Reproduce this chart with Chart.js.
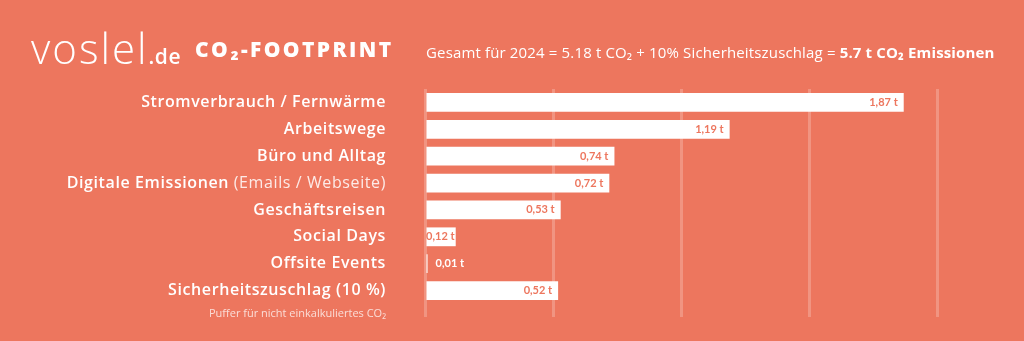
<!DOCTYPE html>
<html>
<head>
<meta charset="utf-8">
<script src="https://cdn.jsdelivr.net/npm/chart.js@4"></script>
<style>
  html, body { margin: 0; padding: 0; background: #ED765E; width: 1024px; height: 341px; overflow: hidden; }
  #wrap { position: relative; width: 1024px; height: 341px; }
  #myChart { position: absolute; left: 0; top: 0; }
  .t { position: absolute; color: #fff; white-space: nowrap; font-family: "Open Sans", sans-serif; line-height: 1; }
</style>
</head>
<body>
<div id="wrap">
  <canvas id="myChart" width="1024" height="341"></canvas>
  <div class="t" style="left:31px;top:27px;font-size:42px;font-weight:300;letter-spacing:2px">voslel<span style="font-size:21px;font-weight:600;letter-spacing:0.5px">.de</span></div>
  <div class="t" style="left:195px;top:39px;font-size:21px;font-weight:800;letter-spacing:2.4px">CO₂-FOOTPRINT</div>
  <div class="t" style="left:426px;top:45px;font-size:15px;font-weight:400;letter-spacing:0.15px">Gesamt für 2024 = 5.18 t CO₂ + 10% Sicherheitszuschlag = <b>5.7 t CO₂ Emissionen</b></div>
</div>
<script>
// Kategorien (fetter Teil), Zusatz in duenner Schrift, Unterzeile
const kategorien = ["Stromverbrauch / Fernwärme", "Arbeitswege", "Büro und Alltag", "Digitale Emissionen", "Geschäftsreisen", "Social Days", "Offsite Events", "Sicherheitszuschlag (10 %)"];
const kategorienZusatz = ["", "", "", " (Emails / Webseite)", "", "", "", ""];
const unterzeilen = ["", "", "", "", "", "", "", "Puffer für nicht einkalkuliertes CO₂"];
const emissionen = [1.87, 1.19, 0.74, 0.72, 0.53, 0.12, 0.01, 0.52];
const werteBeschriftung = ["1,87 t", "1,19 t", "0,74 t", "0,72 t", "0,53 t", "0,12 t", "0,01 t", "0,52 t"];
const achseMax = 2;
const achseSchritt = 0.5;

const hintergrund = "#ED765E";

const beschriftung = {
  id: "beschriftung",
  afterDatasetsDraw(chart) {
    const ctx = chart.ctx;
    const meta = chart.getDatasetMeta(0);
    const yScale = chart.scales.y;
    const rechts = chart.chartArea.left - 39;
    ctx.save();
    ctx.textBaseline = "middle";
    for (let i = 0; i < kategorien.length; i++) {
      const y = yScale.getPixelForValue(i);
      let x = rechts;
      ctx.textAlign = "right";
      ctx.letterSpacing = "0.6px";
      if (kategorienZusatz[i]) {
        ctx.font = '400 16px "Open Sans"';
        ctx.fillStyle = "rgba(255,255,255,0.85)";
        ctx.fillText(kategorienZusatz[i], x, y);
        x -= ctx.measureText(kategorienZusatz[i]).width;
      }
      ctx.font = '600 16px "Open Sans"';
      ctx.fillStyle = "#fff";
      ctx.fillText(kategorien[i], x, y);
      if (unterzeilen[i]) {
        ctx.letterSpacing = "0px";
        ctx.font = '400 11px "Open Sans"';
        ctx.fillStyle = "rgba(255,255,255,0.75)";
        ctx.fillText(unterzeilen[i], rechts, y + 23);
      }

      //Werte an den Balken
      ctx.letterSpacing = "0px";
      const bar = meta.data[i];
      const start = chart.scales.x.getPixelForValue(0);
      const breite = bar.x - start;
      ctx.font = '700 11px "Lato"';
      const w = ctx.measureText(werteBeschriftung[i]).width;
      if (breite > w + 2) {
        ctx.fillStyle = hintergrund;
        ctx.fillText(werteBeschriftung[i], bar.x - Math.min(6, (breite - w) / 2), y);
      } else {
        ctx.textAlign = "left";
        ctx.fillStyle = "#fff";
        ctx.fillText(werteBeschriftung[i], bar.x + 8, y);
      }
    }
    ctx.restore();
  }
};

const ctx = document.getElementById("myChart");
new Chart(ctx, {
  type: "bar",
  data: {
    labels: kategorien,
    datasets: [{
      data: emissionen,
      backgroundColor: "#ffffff",
      borderWidth: 0,
      barPercentage: 0.7,
      categoryPercentage: 1
    }]
  },
  options: {
    indexAxis: "y",
    responsive: false,
    animation: false,
    devicePixelRatio: 1,
    layout: { padding: { left: 425, right: 87, top: 89, bottom: 24 } },
    plugins: { legend: { display: false }, tooltip: { enabled: false } },
    scales: {
      x: {
        min: 0,
        max: achseMax,
        ticks: { display: false, stepSize: achseSchritt },
        border: { display: false },
        grid: { color: "rgba(255,255,255,0.22)", lineWidth: 3, drawTicks: true, tickLength: 13 },
        afterFit(scale) { scale.height = 13; }
      },
      y: { display: false }
    }
  },
  plugins: [beschriftung]
});
</script>
</body>
</html>
